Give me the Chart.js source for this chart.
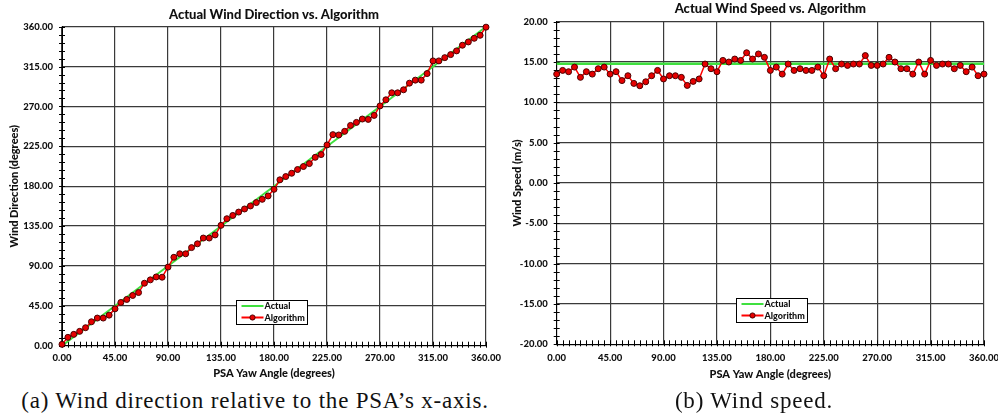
<!DOCTYPE html>
<html>
<head>
<meta charset="utf-8">
<script src="https://cdn.jsdelivr.net/npm/chart.js"></script>
<style>
html, body { margin: 0; padding: 0; background: #fff; width: 998px; height: 419px; overflow: hidden; position: relative; }
.box { position: absolute; top: 0; height: 385px; }
#boxA { left: 0; width: 508px; }
#boxB { left: 505px; width: 510px; }
.cap { position: absolute; top: 389px; line-height: 24px; font-family: "Liberation Serif", serif; font-size: 23px; letter-spacing: 0.8px; color: #111; white-space: nowrap; transform: translateX(-50%); }
</style>
</head>
<body>
<div class="box" id="boxA"><canvas id="dirChart"></canvas></div>
<div class="box" id="boxB"><canvas id="speedChart"></canvas></div>
<div class="cap" style="left:255px">(a) Wind direction relative to the PSA’s x-axis.</div>
<div class="cap" style="left:754px">(b) Wind speed.</div>
<script>
// PSA yaw angle, one sample every 5 degrees
const angles = [0, 5, 10, 15, 20, 25, 30, 35, 40, 45, 50, 55, 60, 65, 70, 75, 80, 85, 90,
  95, 100, 105, 110, 115, 120, 125, 130, 135, 140, 145, 150, 155, 160, 165, 170, 175, 180,
  185, 190, 195, 200, 205, 210, 215, 220, 225, 230, 235, 240, 245, 250, 255, 260, 265, 270,
  275, 280, 285, 290, 295, 300, 305, 310, 315, 320, 325, 330, 335, 340, 345, 350, 355, 360];

// wind direction (degrees) estimated by the algorithm
const algoDir = [1.5, 9.4, 12.8, 16.2, 20.3, 27, 31.2, 31.2, 34.5, 41.6, 48.8, 52.2, 56.7, 60, 70.5, 74.3, 77.6, 77.3, 88.7,
  99.8, 103.7, 103.7, 110.7, 115, 121.5, 121.5, 125, 135.8, 143.3, 147, 150.8, 154.3, 157.7, 161.5, 165.2, 169, 176.5,
  187.2, 190.9, 194.6, 198.8, 202.2, 205.5, 212.6, 215.7, 226.6, 238.2, 237.8, 241.9, 248.6, 252, 255.8, 255.4, 259.9, 270.6,
  277.5, 285.4, 285.4, 288.8, 296.3, 299.7, 299.7, 307.1, 321.4, 321.4, 325.1, 328.5, 332.7, 339.1, 342.8, 346.9, 350.3, 359.5];

// wind speed (m/s) estimated by the algorithm
const algoSpeed = [13.5, 13.96, 13.8, 14.37, 13.1, 13.8, 13.5, 14.17, 14.37, 13.5,
  13.8, 12.7, 13.3, 12.35, 12.06, 12.55, 13.3, 13.96, 12.9,
  13.3, 13.3, 13.1, 12.1, 12.6, 12.9, 14.75, 14.17, 13.8,
  15.2, 15.0, 15.37, 15.2, 16.15, 15.37, 16.0, 15.58, 13.96,
  14.37, 13.5, 14.75, 13.96, 14.17, 13.96, 13.96, 14.37, 13.3,
  15.37, 14.17, 14.75, 14.58, 14.75, 14.75, 15.8, 14.58, 14.58,
  14.75, 15.58, 15.0, 14.17, 14.17, 13.5, 15.0, 13.5, 15.2,
  14.58, 14.75, 14.75, 14.17, 14.58, 13.8, 14.37, 13.3, 13.5];

// actual values (straight lines)
const actualAt = [0, 360];
const actualDir = [0, 360];
const actualSpeed = [14.8, 14.8];

const FONT = 'Lato, "Liberation Sans", sans-serif';
const TXT = '#101010';
const GRID = '#3a3a3a';
const W = '900';

function pts(xs, ys) {
  return xs.map((x, i) => ({ x: x, y: ys[i] }));
}

// small ticks crossing the axes
const minorTicks = {
  id: 'minorTicks',
  beforeDatasetsDraw(chart, args, o) {
    const { ctx, chartArea: a, scales: { x, y } } = chart;
    ctx.save();
    ctx.strokeStyle = '#000';
    ctx.lineWidth = 1;
    ctx.beginPath();
    for (let v = x.min; v <= x.max + 1e-9; v += o.x) {
      const px = Math.round(x.getPixelForValue(v)) + 0.5;
      ctx.moveTo(px, a.bottom - 4);
      ctx.lineTo(px, a.bottom + 2);
    }
    for (let v = y.min; v <= y.max + 1e-9; v += o.y) {
      const py = Math.round(y.getPixelForValue(v)) + 0.5;
      ctx.moveTo(a.left - 3, py);
      ctx.lineTo(a.left + 3, py);
    }
    ctx.stroke();
    ctx.restore();
  }
};

// boxed legend inside the plot, Excel style
const boxLegend = {
  id: 'boxLegend',
  afterDraw(chart, args, o) {
    const { ctx, chartArea: a } = chart;
    const bx = Math.round(a.left + a.width * o.fx) + 0.5;
    const by = Math.round(a.top + a.height * o.fy) + 0.5;
    ctx.save();
    ctx.fillStyle = '#fff';
    ctx.fillRect(bx, by, o.w, o.h);
    ctx.strokeStyle = '#000';
    ctx.lineWidth = 1;
    ctx.strokeRect(bx, by, o.w, o.h);
    ctx.font = W + ' 9px ' + FONT;
    ctx.textBaseline = 'middle';
    chart.data.datasets.forEach((ds, i) => {
      const ry = by + 5.5 + i * 11.5;
      ctx.strokeStyle = ds.borderColor;
      ctx.lineWidth = 2;
      ctx.beginPath();
      ctx.moveTo(bx + 5, ry);
      ctx.lineTo(bx + 27, ry);
      ctx.stroke();
      if (ds.pointRadius > 0) {
        ctx.beginPath();
        ctx.arc(bx + 16, ry, 2.6, 0, Math.PI * 2);
        ctx.fillStyle = ds.pointBackgroundColor;
        ctx.fill();
        ctx.strokeStyle = ds.pointBorderColor;
        ctx.lineWidth = 1;
        ctx.stroke();
      }
      ctx.fillStyle = TXT;
      ctx.fillText(ds.label, bx + 28, ry + 0.5);
    });
    ctx.restore();
  }
};

function makeChart(id, cfg) {
  return new Chart(document.getElementById(id), {
    type: 'line',
    data: {
      datasets: [
        {
          label: 'Actual',
          data: pts(actualAt, cfg.actual),
          borderColor: '#3fe03f',
          borderWidth: cfg.actualWidth,
          pointRadius: 0,
          order: 1,
          clip: false
        },
        {
          label: 'Algorithm',
          data: pts(angles, cfg.algo),
          borderColor: '#ff0000',
          borderWidth: 1.5,
          pointRadius: 3,
          pointBorderWidth: 1,
          pointBackgroundColor: '#e60000',
          pointBorderColor: '#4a0000',
          order: 0,
          clip: false
        }
      ]
    },
    options: {
      responsive: true,
      maintainAspectRatio: false,
      animation: false,
      layout: { padding: { left: 0, right: cfg.padRight, top: 0, bottom: 0 } },
      elements: { line: { tension: 0 } },
      plugins: {
        legend: { display: false },
        tooltip: { enabled: false },
        title: {
          display: true,
          fullSize: false,
          text: cfg.title,
          color: TXT,
          font: { family: FONT, size: 13, weight: W, lineHeight: 1.1 },
          padding: cfg.titlePad
        },
        minorTicks: { x: 5, y: cfg.minorY },
        boxLegend: { fx: cfg.legendX, fy: 0.857, w: 71, h: 24 }
      },
      scales: {
        x: {
          type: 'linear',
          min: 0,
          max: 360,
          ticks: {
            stepSize: 45,
            color: TXT,
            padding: cfg.xPad,
            maxRotation: 0,
            font: { family: FONT, size: 9.5, weight: W },
            callback: v => v.toFixed(2)
          },
          grid: { color: GRID, lineWidth: 1.2, drawTicks: false },
          border: { color: '#000', width: 1 },
          title: {
            display: true,
            text: 'PSA Yaw Angle (degrees)',
            color: TXT,
            font: { family: FONT, size: 11, weight: W },
            padding: { top: 0, bottom: cfg.xTitlePad }
          },
          afterFit: s => { s.height = cfg.xHeight; }
        },
        y: {
          type: 'linear',
          min: cfg.yMin,
          max: cfg.yMax,
          ticks: {
            stepSize: cfg.yStep,
            color: TXT,
            padding: 9,
            font: { family: FONT, size: 9.5, weight: W },
            callback: v => v.toFixed(2)
          },
          grid: { color: GRID, lineWidth: 1.2, drawTicks: false },
          border: { color: '#000', width: 1 },
          title: {
            display: true,
            text: cfg.yTitle,
            color: TXT,
            font: { family: FONT, size: 11, weight: W },
            padding: { top: cfg.yTitlePad, bottom: 0 }
          },
          afterFit: s => { s.width = cfg.yWidth; }
        }
      }
    },
    plugins: [minorTicks, boxLegend]
  });
}

makeChart('dirChart', {
  title: 'Actual Wind Direction vs. Algorithm',
  titlePad: { top: 7.5, bottom: 4.9 },
  actual: actualDir,
  actualWidth: 2,
  algo: algoDir,
  yMin: 0, yMax: 360, yStep: 45, minorY: 9,
  yTitle: 'Wind Direction (degrees)',
  yTitlePad: 7.5,
  yWidth: 62,
  xHeight: 39.3,
  xPad: 7,
  xTitlePad: 4.5,
  padRight: 22,
  legendX: 0.41
});

makeChart('speedChart', {
  title: 'Actual Wind Speed vs. Algorithm',
  titlePad: { top: 1.2, bottom: 6.2 },
  actual: actualSpeed,
  actualWidth: 2.5,
  algo: algoSpeed,
  yMin: -20, yMax: 20, yStep: 5, minorY: 1,
  yTitle: 'Wind Speed (m/s)',
  yTitlePad: 5.5,
  yWidth: 51.7,
  xHeight: 40.7,
  xPad: 8,
  xTitlePad: 4.2,
  padRight: 31,
  legendX: 0.419
});
</script>
</body>
</html>
